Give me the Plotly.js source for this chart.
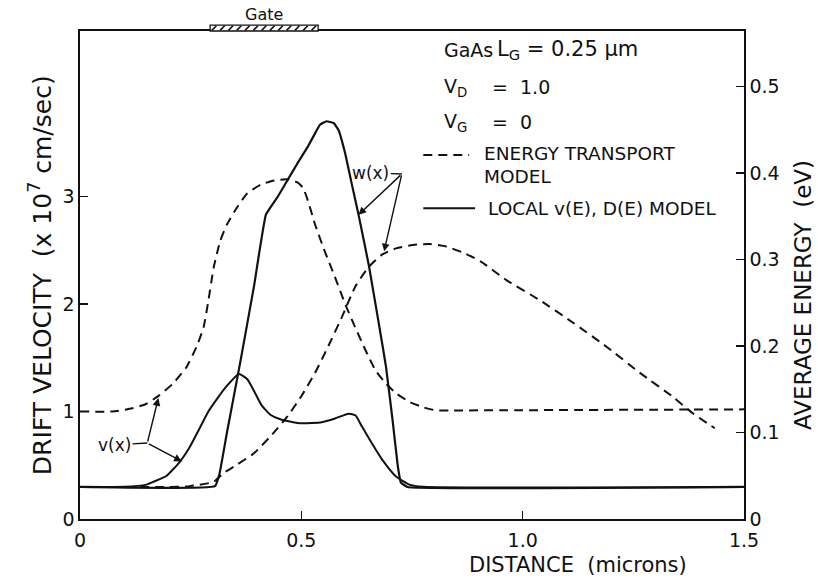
<!DOCTYPE html>
<html>
<head>
<meta charset="utf-8">
<script src="https://cdn.plot.ly/plotly-3.0.1.min.js"></script>
<style>html,body{margin:0;padding:0;background:#fff;}#chart{width:818px;height:586px;}</style>
</head>
<body>
<div id="chart"></div>
<script>
// ---- data ----
// local v(E), D(E) model: drift velocity (x1e7 cm/s)
var vLocalX = [0, 0.10, 0.15, 0.165, 0.195, 0.225, 0.248, 0.271, 0.29, 0.31, 0.332, 0.359, 0.378, 0.392, 0.41, 0.43, 0.454, 0.50, 0.546, 0.576, 0.607, 0.622, 0.637, 0.66, 0.683, 0.714, 0.744, 0.775, 1.5];
var vLocalY = [0.30, 0.30, 0.32, 0.345, 0.40, 0.53, 0.67, 0.85, 1.0, 1.12, 1.24, 1.35, 1.30, 1.20, 1.06, 0.97, 0.925, 0.89, 0.90, 0.935, 0.98, 0.965, 0.86, 0.70, 0.55, 0.395, 0.32, 0.30, 0.30];
// energy transport model: drift velocity
var vEtX = [0, 0.073, 0.118, 0.149, 0.179, 0.21, 0.24, 0.263, 0.279, 0.29, 0.302, 0.317, 0.332, 0.355, 0.378, 0.408, 0.439, 0.469, 0.492, 0.504, 0.515, 0.531, 0.553, 0.576, 0.599, 0.622, 0.645, 0.668, 0.691, 0.714, 0.744, 0.775, 0.805, 0.836, 1.5];
var vEtY = [1.0, 1.0, 1.03, 1.07, 1.15, 1.26, 1.41, 1.60, 1.78, 2.03, 2.34, 2.59, 2.74, 2.90, 3.03, 3.11, 3.15, 3.16, 3.13, 3.08, 2.96, 2.74, 2.49, 2.25, 2.0, 1.78, 1.57, 1.38, 1.26, 1.17, 1.09, 1.04, 1.01, 1.01, 1.02];
// local model: average energy (eV)
var wLocalX = [0, 0.305, 0.315, 0.332, 0.363, 0.393, 0.42, 0.447, 0.469, 0.492, 0.515, 0.531, 0.542, 0.557, 0.573, 0.584, 0.599, 0.615, 0.63, 0.653, 0.676, 0.691, 0.706, 0.718, 0.725, 0.74, 1.5];
var wLocalY = [0.037, 0.038, 0.052, 0.10, 0.184, 0.269, 0.352, 0.373, 0.392, 0.412, 0.431, 0.446, 0.456, 0.46, 0.458, 0.45, 0.423, 0.385, 0.35, 0.292, 0.223, 0.177, 0.115, 0.061, 0.042, 0.037, 0.037];
// energy transport model: average energy (eV)
var wEtX = [0, 0.20, 0.248, 0.302, 0.324, 0.355, 0.393, 0.431, 0.469, 0.50, 0.531, 0.561, 0.592, 0.622, 0.653, 0.683, 0.714, 0.752, 0.79, 0.828, 0.866, 0.905, 0.964, 1.039, 1.114, 1.19, 1.265, 1.34, 1.385, 1.434];
var wEtY = [0.037, 0.037, 0.038, 0.043, 0.053, 0.063, 0.076, 0.096, 0.119, 0.142, 0.169, 0.200, 0.234, 0.269, 0.292, 0.306, 0.313, 0.317, 0.318, 0.315, 0.308, 0.298, 0.276, 0.253, 0.227, 0.199, 0.169, 0.141, 0.122, 0.105];

var xTickVals = [0, 0.5, 1.0, 1.5];
var xTickText = ['0', '0.5', '1.0', '1.5'];
var yTickVals = [0, 1, 2, 3];
var yTickText = ['0', '1', '2', '3'];
var y2TickVals = [0, 0.1, 0.2, 0.3, 0.4, 0.5];
var y2TickText = ['0', '0.1', '0.2', '0.3', '0.4', '0.5'];

var gateStart = 0.294, gateEnd = 0.538;

// ---- styles ----
var FONT = 'DejaVu Sans, Arial, sans-serif';
var INK = '#111';
var DASH = '9px,6px';

var traces = [
  {x: vEtX, y: vEtY, yaxis: 'y', mode: 'lines', line: {color: INK, width: 2, dash: DASH, shape: 'spline', smoothing: 0.5}, showlegend: false, hoverinfo: 'skip'},
  {x: vLocalX, y: vLocalY, yaxis: 'y', mode: 'lines', line: {color: INK, width: 2, shape: 'spline', smoothing: 0.5}, showlegend: false, hoverinfo: 'skip'},
  {x: wEtX, y: wEtY, yaxis: 'y2', mode: 'lines', line: {color: INK, width: 2, dash: DASH, shape: 'spline', smoothing: 0.5}, showlegend: false, hoverinfo: 'skip'},
  {x: wLocalX, y: wLocalY, yaxis: 'y2', mode: 'lines', line: {color: INK, width: 2.2, shape: 'spline', smoothing: 0.3}, showlegend: false, hoverinfo: 'skip'}
];

var shapes = [];
// gate
var gateH = 0.012;
shapes.push({type: 'rect', xref: 'x', yref: 'paper', x0: gateStart, x1: gateEnd, y0: 1.0, y1: 1.0 + gateH, line: {color: INK, width: 1.3}, fillcolor: '#fff'});
var hatchStep = (gateEnd - gateStart) / 13;
for (var i = 0; i < 13; i++) {
  var hx = gateStart + hatchStep * (i + 0.2);
  shapes.push({type: 'line', xref: 'x', yref: 'paper', x0: hx, x1: hx + hatchStep * 0.55, y0: 1.0 + gateH * 0.1, y1: 1.0 + gateH * 0.9, line: {color: INK, width: 1.6}});
}
// legend samples
shapes.push({type: 'line', xref: 'paper', yref: 'paper', x0: 0.517, x1: 0.586, y0: 0.746, y1: 0.746, line: {color: INK, width: 2, dash: DASH}});
shapes.push({type: 'line', xref: 'paper', yref: 'paper', x0: 0.517, x1: 0.595, y0: 0.637, y1: 0.637, line: {color: INK, width: 2}});

function txt(t, x, y, xanchor, size, extra) {
  var a = {text: t, x: x, y: y, xref: 'paper', yref: 'paper', xanchor: xanchor || 'left', yanchor: 'middle', showarrow: false, font: {family: FONT, size: size || 17, color: INK}};
  if (extra) for (var k in extra) a[k] = extra[k];
  return a;
}

var annotations = [
  // info block
  txt('GaAs', 0.545, 0.961, 'left', 19),
  txt('L<sub>G</sub> = 0.25 μm', 0.625, 0.961, 'left', 21),
  txt('V<sub>D</sub>', 0.545, 0.885, 'left', 19),
  txt('=  1.0', 0.617, 0.885, 'left', 19),
  txt('V<sub>G</sub>', 0.545, 0.8135, 'left', 19),
  txt('=  0', 0.617, 0.8135, 'left', 19),
  txt('ENERGY TRANSPORT', 0.606, 0.748, 'left', 18.5),
  txt('MODEL', 0.606, 0.701, 'left', 18.5),
  txt('LOCAL v(E), D(E) MODEL', 0.612, 0.637, 'left', 18.5),
  // gate label
  {text: 'Gate', x: (gateStart + gateEnd) / 2, y: 1.033, xref: 'x', yref: 'paper', xanchor: 'center', yanchor: 'middle', showarrow: false, font: {family: FONT, size: 16, color: INK}},
  // axis titles
  txt('DRIFT VELOCITY  (x 10<sup>7</sup> cm/sec)', -0.06, 0.5, 'center', 25, {textangle: -90}),
  txt('AVERAGE ENERGY  (eV)', 1.088, 0.46, 'center', 23, {textangle: -90}),
  txt('DISTANCE  (microns)', 0.75, -0.094, 'center', 21),
  // v(x) label with connector and arrows
  {text: 'v(x)', x: 0.152, y: 0.707, ax: 0.078, ay: 0.69, xref: 'x', yref: 'y', axref: 'x', ayref: 'y', showarrow: true, arrowhead: 0, arrowwidth: 1.4, arrowcolor: INK, font: {family: FONT, size: 17, color: INK}},
  {text: '', x: 0.177, y: 1.125, ax: 0.152, ay: 0.707, xref: 'x', yref: 'y', axref: 'x', ayref: 'y', showarrow: true, arrowhead: 2, arrowsize: 1.1, arrowwidth: 1.4, arrowcolor: INK, standoff: 0},
  {text: '', x: 0.23, y: 0.536, ax: 0.152, ay: 0.707, xref: 'x', yref: 'y', axref: 'x', ayref: 'y', showarrow: true, arrowhead: 2, arrowsize: 1.1, arrowwidth: 1.4, arrowcolor: INK, standoff: 0},
  // w(x) label with connector and arrows
  {text: 'w(x)', x: 0.727, y: 3.21, ax: 0.657, ay: 3.22, xref: 'x', yref: 'y', axref: 'x', ayref: 'y', showarrow: true, arrowhead: 0, arrowwidth: 1.4, arrowcolor: INK, font: {family: FONT, size: 17, color: INK}},
  {text: '', x: 0.629, y: 2.83, ax: 0.727, ay: 3.21, xref: 'x', yref: 'y', axref: 'x', ayref: 'y', showarrow: true, arrowhead: 2, arrowsize: 1.1, arrowwidth: 1.4, arrowcolor: INK, standoff: 0},
  {text: '', x: 0.687, y: 2.49, ax: 0.727, ay: 3.21, xref: 'x', yref: 'y', axref: 'x', ayref: 'y', showarrow: true, arrowhead: 2, arrowsize: 1.1, arrowwidth: 1.4, arrowcolor: INK, standoff: 0}
];

var axisCommon = {showgrid: false, zeroline: false, showline: true, linecolor: INK, linewidth: 1.6, ticks: 'inside', ticklen: 8, tickwidth: 1.6, tickcolor: INK, tickfont: {family: FONT, size: 19, color: INK}, fixedrange: true};

var layout = {
  width: 818, height: 586,
  margin: {l: 80, r: 74, t: 31, b: 67, autoexpand: false},
  paper_bgcolor: '#fff', plot_bgcolor: '#fff',
  showlegend: false,
  xaxis: Object.assign({}, axisCommon, {range: [0, 1.5], tickvals: xTickVals, ticktext: xTickText, mirror: true, ticklabelstandoff: 4}),
  yaxis: Object.assign({}, axisCommon, {range: [0, 4.54], tickvals: yTickVals, ticktext: yTickText}),
  yaxis2: Object.assign({}, axisCommon, {range: [0, 0.5644], tickvals: y2TickVals, ticktext: y2TickText, overlaying: 'y', side: 'right'}),
  shapes: shapes,
  annotations: annotations
};

Plotly.newPlot('chart', traces, layout, {staticPlot: true, displayModeBar: false});
</script>
</body>
</html>
